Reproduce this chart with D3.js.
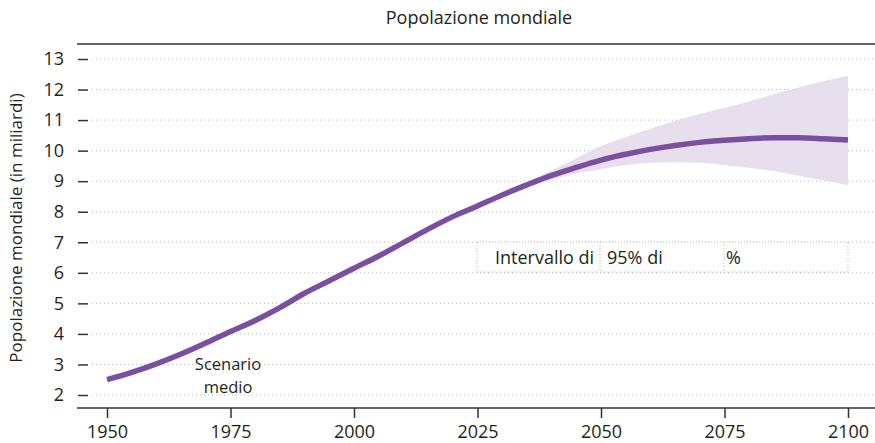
<!DOCTYPE html>
<html>
<head>
<meta charset="utf-8">
<script src="https://cdn.jsdelivr.net/npm/d3@7"></script>
<style>
  body { margin: 0; background: #fff; }
  text { font-family: "Open Sans", "Noto Sans", sans-serif; fill: #231f20; }
</style>
</head>
<body>
<div id="chart"></div>
<script>
// median scenario, billions
var years = [1950,1955,1960,1965,1970,1975,1980,1985,1990,1995,2000,2005,2010,2015,2020,2025,2030,2035,2040,2045,2050,2055,2060,2065,2070,2075,2080,2085,2090,2095,2100];
var median = [2.50,2.74,3.02,3.34,3.70,4.08,4.44,4.86,5.33,5.74,6.15,6.55,6.99,7.43,7.84,8.19,8.55,8.88,9.19,9.45,9.69,9.88,10.04,10.17,10.27,10.34,10.39,10.42,10.42,10.39,10.35];

// 95% interval
var bandYears = [2022,2025,2030,2035,2040,2045,2050,2055,2060,2065,2070,2075,2080,2085,2090,2095,2100];
var lower = [7.97,8.17,8.50,8.80,9.05,9.25,9.40,9.52,9.60,9.62,9.60,9.53,9.43,9.33,9.18,9.03,8.87];
var upper = [7.97,8.21,8.60,8.97,9.35,9.75,10.15,10.45,10.72,10.98,11.20,11.40,11.62,11.85,12.07,12.27,12.45];

var xTicks = [1950,1975,2000,2025,2050,2075,2100];
var yTicks = [2,3,4,5,6,7,8,9,10,11,12,13];

var width = 875, height = 443;

var svg = d3.select("#chart").append("svg")
    .attr("width", width)
    .attr("height", height);

var x = d3.scaleLinear().domain([1950, 2100]).range([107, 848]);
var y = d3.scaleLinear().domain([2, 13]).range([395, 59]);

// top rule
svg.append("line")
    .attr("x1", 77).attr("x2", width)
    .attr("y1", 44).attr("y2", 44)
    .attr("stroke", "#333").attr("stroke-width", 1.5);

svg.append("text")
    .attr("x", 479).attr("y", 24)
    .attr("text-anchor", "middle")
    .attr("font-size", 18)
    .text("Popolazione mondiale");

// grid
svg.append("g").selectAll("line")
  .data(yTicks)
  .enter().append("line")
    .attr("x1", 92).attr("x2", width)
    .attr("y1", function(d) { return y(d); })
    .attr("y2", function(d) { return y(d); })
    .attr("stroke", "#b8b8b8")
    .attr("stroke-width", 1)
    .attr("stroke-dasharray", "1,3");

// y axis: only ticks + labels
var yAxis = svg.append("g")
    .attr("transform", "translate(88,0)")
    .call(d3.axisLeft(y).tickValues(yTicks).tickSize(10).tickPadding(14));
yAxis.select(".domain").remove();
yAxis.selectAll(".tick line").attr("stroke", "#333").attr("stroke-width", 1.5);
yAxis.selectAll(".tick text").attr("font-size", 18).attr("fill", "#231f20");

svg.append("text")
    .attr("transform", "translate(22,228) rotate(-90)")
    .attr("text-anchor", "middle")
    .attr("font-size", 17)
    .text("Popolazione mondiale (in miliardi)");

// x axis
var xAxis = svg.append("g")
    .attr("transform", "translate(0,408)")
    .call(d3.axisBottom(x).tickValues(xTicks).tickFormat(d3.format("d")).tickSize(10).tickSizeOuter(0).tickPadding(7));
xAxis.select(".domain").attr("d", "M77,0H" + width).attr("stroke", "#333").attr("stroke-width", 1.5);
xAxis.selectAll(".tick line").attr("stroke", "#333").attr("stroke-width", 1.5);
xAxis.selectAll(".tick text").attr("font-size", 18).attr("fill", "#231f20");

// interval box
var box = svg.append("g");
box.append("rect")
    .attr("x", 477).attr("y", 242)
    .attr("width", 371).attr("height", 30)
    .attr("fill", "#fff")
    .attr("stroke", "#b8b8b8")
    .attr("stroke-dasharray", "1,2");
[600, 724].forEach(function(px) {
  box.append("line")
    .attr("x1", px).attr("x2", px)
    .attr("y1", 242).attr("y2", 272)
    .attr("stroke", "#b8b8b8")
    .attr("stroke-dasharray", "1,2");
});
box.append("text").attr("x", 495).attr("y", 264).attr("font-size", 18).text("Intervallo di");
box.append("text").attr("x", 607).attr("y", 264).attr("font-size", 18).text("95% di");
box.append("text").attr("x", 726).attr("y", 264).attr("font-size", 18).text("%");

// band
var bandData = bandYears.map(function(yr, i) { return {yr: yr, lo: lower[i], hi: upper[i]}; });
svg.append("path")
    .datum(bandData)
    .attr("fill", "#e4dcec")
    .attr("fill-opacity", 0.9)
    .attr("d", d3.area()
      .curve(d3.curveMonotoneX)
      .x(function(d) { return x(d.yr); })
      .y0(function(d) { return y(d.lo); })
      .y1(function(d) { return y(d.hi); }));

// median line
var lineData = years.map(function(yr, i) { return {yr: yr, v: median[i]}; });
svg.append("path")
    .datum(lineData)
    .attr("fill", "none")
    .attr("stroke", "#7a4f9f")
    .attr("stroke-width", 5.5)
    .attr("d", d3.line()
      .curve(d3.curveMonotoneX)
      .x(function(d) { return x(d.yr); })
      .y(function(d) { return y(d.v); }));

svg.append("text")
    .attr("x", 228).attr("y", 370)
    .attr("text-anchor", "middle")
    .attr("font-size", 16.5)
    .text("Scenario");
svg.append("text")
    .attr("x", 228).attr("y", 393)
    .attr("text-anchor", "middle")
    .attr("font-size", 16.5)
    .text("medio");
</script>
</body>
</html>
